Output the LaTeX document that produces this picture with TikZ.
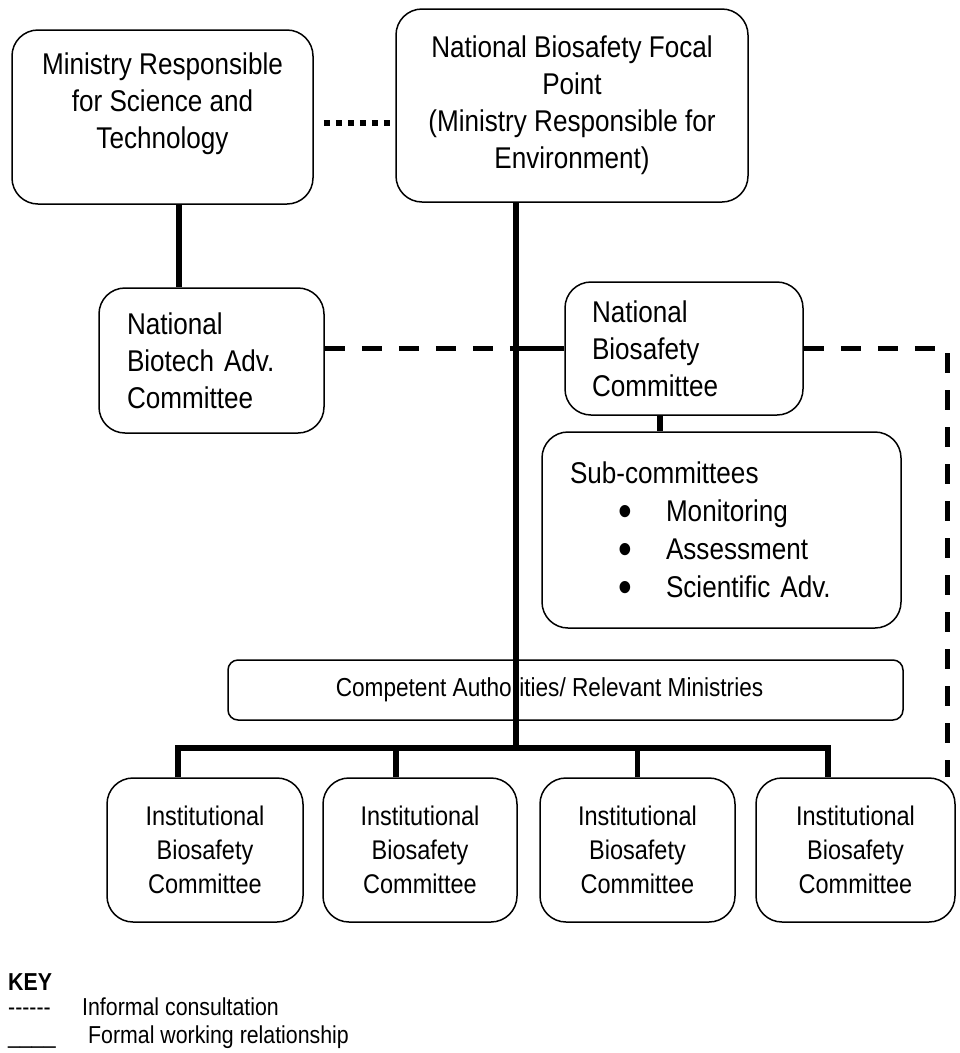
\documentclass[tikz,border=0pt]{standalone}
\usepackage{fontspec}
\setmainfont{Liberation Sans}[FakeStretch=0.87]

\tikzset{
  orgbox/.style={draw, line width=1.5pt, rounded corners=26pt, fill=white, inner sep=0pt},
  big/.style={font=\fontsize{30}{37}\selectfont},
  small/.style={font=\fontsize{27}{34}\selectfont, align=center},
  formal/.style={line width=5.5pt},
  informal/.style={line width=5pt, dash pattern=on 20pt off 17pt},
  consultdots/.style={line width=6pt, dash pattern=on 6pt off 6pt},
  keytext/.style={font=\fontsize{24.5}{28}\selectfont, anchor=base west, inner sep=0pt}
}
\newcommand\keydash{\mbox{-}}
\newcommand\subbullet{\hspace*{55pt}\makebox[0pt]{\smash{\raisebox{-5pt}{\fontsize{45}{38}\selectfont\textbullet}}}\hspace{41pt}}

\begin{document}
\begin{tikzpicture}[x=1pt,y=-1pt]
\useasboundingbox (0,0) rectangle (960,1053);

% top row
\node [orgbox, minimum width=301pt, minimum height=174pt] (ministry) at (162.5,117) {};
\node [big, align=center] (ministrytext) at (162.5,103.5) {Ministry Responsible\\for Science and\\Technology};
\node [orgbox, big, align=center, minimum width=352pt, minimum height=193pt] (focal) at (572,105.5)
  {National Biosafety Focal\\Point\\(Ministry Responsible for\\Environment)};

% committees
\node [orgbox, big, align=left, text width=169pt, minimum width=225pt, minimum height=145pt] (nbac) at (211.5,360.5)
  {National\\Biotech Adv.\\Committee};
\node [orgbox, big, align=left, text width=184pt, minimum width=238pt, minimum height=133pt] (nbc) at (684,348.5)
  {National\\Biosafety\\Committee};
\node [orgbox, font=\fontsize{30}{38}\selectfont, align=left, text width=303pt, minimum width=359pt, minimum height=196pt] (sub) at (721.5,530)
  {Sub-committees\\
   \subbullet Monitoring\\
   \subbullet Assessment\\
   \subbullet Scientific Adv.};
\node [orgbox, rounded corners=10pt, minimum width=675pt, minimum height=60pt] (comp) at (565.5,690) {};
\node [font=\fontsize{26}{30}\selectfont] (comptext) at ([xshift=-16pt]comp.center) {Competent Authorities/ Relevant Ministries};

% institutional committees
\node [orgbox, small, minimum width=196pt, minimum height=144pt] (ibc1) at (205,850) {Institutional\\Biosafety\\Committee};
\node [orgbox, small, minimum width=194pt, minimum height=144pt] (ibc2) at (420,850) {Institutional\\Biosafety\\Committee};
\node [orgbox, small, minimum width=195pt, minimum height=144pt] (ibc3) at (637.5,850) {Institutional\\Biosafety\\Committee};
\node [orgbox, small, minimum width=199pt, minimum height=144pt] (ibc4) at (855.5,850) {Institutional\\Biosafety\\Committee};

\coordinate (spine) at (516,748);

% links
\draw [consultdots, shorten <=10pt] ([yshift=-6pt]ministry.east) -- ([yshift=-6pt]ministry.east -| focal.west);
\draw [formal] ([xshift=16.5pt]ministry.south) -- ([xshift=16.5pt]ministry.south |- nbac.north);
\draw [formal] (focal.south -| spine) -- (spine);
\draw [informal] (nbac.east |- nbc.west) -- (spine |- nbc.west);
\draw [formal] (spine |- nbc.west) -- (nbc.west);
\draw [informal] (nbc.east) -| ([xshift=91.5pt]ibc4.north);
\draw [formal] ([xshift=-24pt]nbc.south) -- ([xshift=-24pt]nbc.south |- sub.north);
\draw [formal] ([xshift=-27pt]ibc1.north) |- (spine) -| ([xshift=-27.5pt]ibc4.north);
\draw [formal] ([xshift=-24pt]ibc2.north) -- ([xshift=-24pt]ibc2.north |- spine);
\draw [formal] (ibc3.north) -- (ibc3.north |- spine);

% key
\node [keytext, font=\fontsize{24.5}{28}\selectfont\bfseries] (key) at (8,990) {KEY};
\node [keytext] (keydashes) at (8,1015) {\keydash\keydash\keydash\keydash\keydash\keydash};
\node [keytext] (keyinformal) at (82,1015) {Informal consultation};
\node [keytext] (keyline) at (8,1043) {\_\_\_\_};
\node [keytext] (keyformal) at (88,1043) {Formal working relationship};
\end{tikzpicture}
\end{document}
